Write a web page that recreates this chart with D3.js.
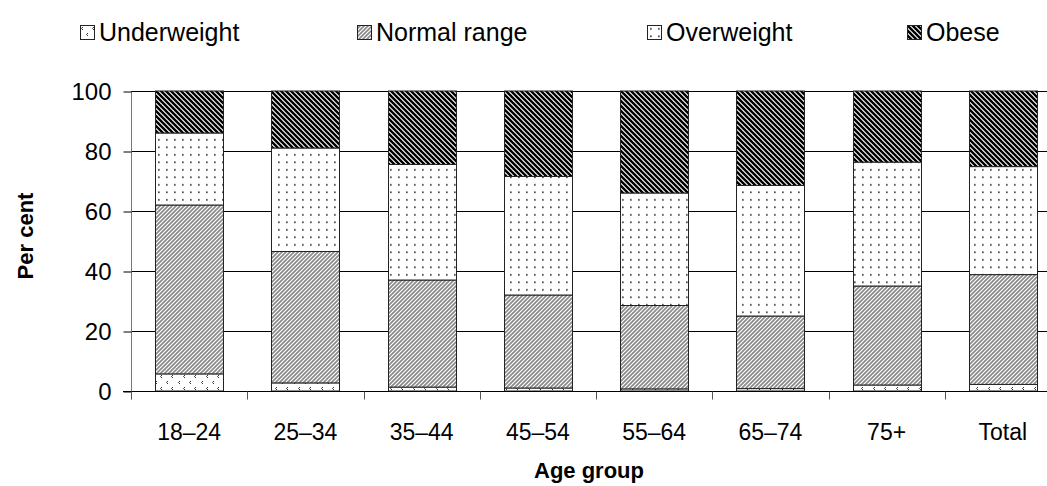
<!DOCTYPE html>
<html>
<head>
<meta charset="utf-8">
<script src="https://cdn.jsdelivr.net/npm/d3@7"></script>
<style>
  body { margin: 0; background: #fff; }
  text { font-family: Arial, "Liberation Sans", sans-serif; }
</style>
</head>
<body>
<div id="chart"></div>
<script>
var ageGroups = ["18–24", "25–34", "35–44", "45–54", "55–64", "65–74", "75+", "Total"];
var underweight = [5.7, 2.7, 1.3, 1.0, 0.7, 0.8, 2.0, 2.2];
var normalRange = [56.3, 43.8, 35.7, 31.0, 27.8, 24.2, 33.0, 36.6];
var overweight = [24.0, 34.5, 38.5, 39.5, 37.5, 43.5, 41.3, 36.0];
var obese = [14.0, 19.0, 24.5, 28.5, 34.0, 31.5, 23.7, 25.2];
var seriesNames = ["Underweight", "Normal range", "Overweight", "Obese"];
var yTicks = [0, 20, 40, 60, 80, 100];

var width = 1047;
var height = 486;
var margin = { top: 91, bottom: 95, left: 131, right: -14 };

var svg = d3.select("#chart")
    .append("svg")
    .attr("width", width)
    .attr("height", height);

// fill patterns
var defs = svg.append("defs");

var pUnder = defs.append("pattern")
    .attr("id", "pat0")
    .attr("patternUnits", "userSpaceOnUse")
    .attr("width", 23)
    .attr("height", 12);
pUnder.append("rect").attr("width", 23).attr("height", 12).attr("fill", "#fff");
[[3, 2], [14, 2], [8, 8], [19, 8]].forEach(function(p) {
    pUnder.append("path")
        .attr("d", "M" + p[0] + "," + p[1] + " l-1.5,1.5 l1.5,1.5")
        .attr("fill", "none")
        .attr("stroke", "#333")
        .attr("stroke-width", 1);
});

var pNormal = defs.append("pattern")
    .attr("id", "pat1")
    .attr("patternUnits", "userSpaceOnUse")
    .attr("width", 4)
    .attr("height", 4);
pNormal.append("rect").attr("width", 4).attr("height", 4).attr("fill", "#fff");
pNormal.append("path")
    .attr("d", "M-1,1 l2,-2 M0,4 l4,-4 M3,5 l2,-2")
    .attr("stroke", "#8a8a8a")
    .attr("stroke-width", 1.7);

var pOver = defs.append("pattern")
    .attr("id", "pat2")
    .attr("patternUnits", "userSpaceOnUse")
    .attr("width", 8)
    .attr("height", 7.5);
pOver.append("rect").attr("width", 8).attr("height", 7.5).attr("fill", "#fff");
pOver.append("rect").attr("x", 3).attr("y", 3).attr("width", 1.7).attr("height", 1.7).attr("fill", "#444");

var pObese = defs.append("pattern")
    .attr("id", "pat3")
    .attr("patternUnits", "userSpaceOnUse")
    .attr("width", 5)
    .attr("height", 5);
pObese.append("rect").attr("width", 5).attr("height", 5).attr("fill", "#fff");
pObese.append("path")
    .attr("d", "M-1,4 l2,2 M0,0 l5,5 M4,-1 l2,2")
    .attr("stroke", "#000")
    .attr("stroke-width", 2.4);

var plotW = width - margin.left - margin.right;
var plotH = height - margin.top - margin.bottom;

var xScale = d3.scaleBand()
    .domain(ageGroups)
    .range([0, plotW])
    .paddingInner(0.415)
    .paddingOuter(0.2075);

var yScale = d3.scaleLinear()
    .domain([0, 100])
    .range([plotH, 0]);

var g = svg.append("g")
    .attr("transform", "translate(" + margin.left + "," + margin.top + ")");

// gridlines
g.selectAll(".grid")
    .data(yTicks.filter(function(d) { return d > 0; }))
    .enter()
    .append("line")
    .attr("class", "grid")
    .attr("x1", 0)
    .attr("x2", plotW)
    .attr("y1", function(d) { return yScale(d) + 0.5; })
    .attr("y2", function(d) { return yScale(d) + 0.5; })
    .attr("stroke", "#000")
    .attr("stroke-width", 1);

// stack data
var rows = ageGroups.map(function(a, i) {
    return { group: a, s0: underweight[i], s1: normalRange[i], s2: overweight[i], s3: obese[i] };
});
var stack = d3.stack().keys(["s0", "s1", "s2", "s3"]);
var layers = stack(rows);

layers.forEach(function(layer, k) {
    g.selectAll(".bar" + k)
        .data(layer)
        .enter()
        .append("rect")
        .attr("class", "bar" + k)
        .attr("x", function(d) { return Math.round(xScale(d.data.group)) + 0.5; })
        .attr("width", Math.round(xScale.bandwidth()))
        .attr("y", function(d) { return yScale(Math.min(d[1], 100)); })
        .attr("height", function(d) { return yScale(d[0]) - yScale(Math.min(d[1], 100)); })
        .attr("fill", "url(#pat" + k + ")")
        .attr("stroke", "#222")
        .attr("stroke-width", 1);
});

// y axis
var yAxis = d3.axisLeft(yScale)
    .tickValues(yTicks)
    .tickSize(8)
    .tickPadding(12);
var yg = g.append("g")
    .attr("transform", "translate(0.5,0.5)")
    .call(yAxis);
yg.select(".domain").attr("stroke", "#777").attr("d", "M0," + (plotH + 8) + "V0");
yg.selectAll(".tick line").attr("stroke", "#000");
yg.selectAll(".tick text")
    .attr("font-size", "24px")
    .attr("font-family", "Arial, 'Liberation Sans', sans-serif")
    .attr("fill", "#000");

// x axis
var xg = g.append("g")
    .attr("transform", "translate(0," + (plotH + 0.5) + ")");
xg.append("line")
    .attr("x1", -8)
    .attr("x2", plotW)
    .attr("stroke", "#000");
var step = xScale.step();
xg.selectAll(".xtick")
    .data(d3.range(ageGroups.length + 1))
    .enter()
    .append("line")
    .attr("class", "xtick")
    .attr("x1", function(i) { return Math.round(i * step) + 0.5; })
    .attr("x2", function(i) { return Math.round(i * step) + 0.5; })
    .attr("y1", 0)
    .attr("y2", 8)
    .attr("stroke", "#555");
xg.selectAll(".xlabel")
    .data(ageGroups)
    .enter()
    .append("text")
    .attr("class", "xlabel")
    .attr("x", function(d) { return xScale(d) + xScale.bandwidth() / 2; })
    .attr("y", 48)
    .attr("text-anchor", "middle")
    .attr("font-size", "23px")
    .text(function(d) { return d; });

// axis titles
svg.append("text")
    .attr("x", 589)
    .attr("y", 478)
    .attr("text-anchor", "middle")
    .attr("font-size", "22px")
    .attr("font-weight", "bold")
    .text("Age group");

svg.append("text")
    .attr("transform", "translate(33,236) rotate(-90)")
    .attr("text-anchor", "middle")
    .attr("font-size", "22px")
    .attr("font-weight", "bold")
    .text("Per cent");

// legend
var legendX = [80, 357, 647, 907];
var legend = svg.append("g").attr("class", "legend");
seriesNames.forEach(function(name, k) {
    var lg = legend.append("g")
        .attr("transform", "translate(" + legendX[k] + ",25)");
    lg.append("rect")
        .attr("x", 0.5)
        .attr("y", 0.5)
        .attr("width", 14)
        .attr("height", 14)
        .attr("fill", "url(#pat" + k + ")")
        .attr("stroke", "#222");
    lg.append("text")
        .attr("x", 19)
        .attr("y", 16)
        .attr("font-size", "25px")
        .text(name);
});
</script>
</body>
</html>
